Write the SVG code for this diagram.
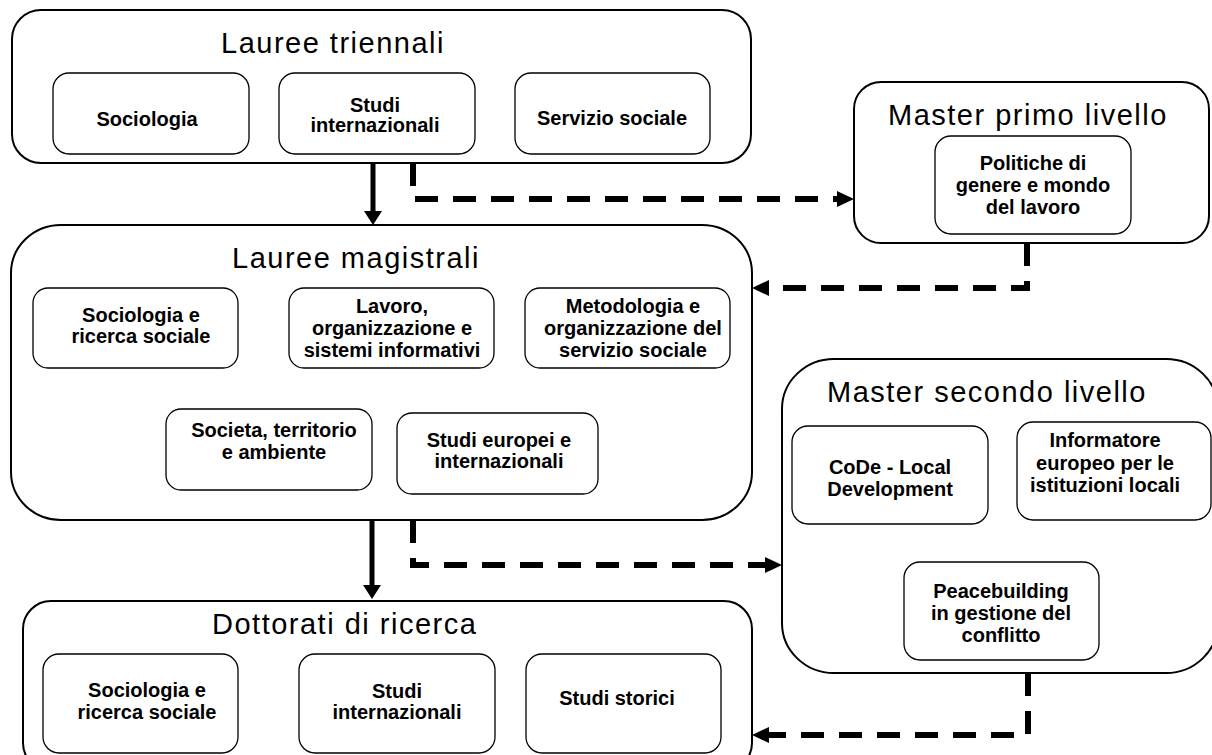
<svg xmlns="http://www.w3.org/2000/svg" width="1212" height="755" viewBox="0 0 1212 755">
<style>
.outer{fill:#fff;stroke:#000;stroke-width:2}
.inner{fill:#fff;stroke:#000;stroke-width:1.3}
.title{font-family:"Liberation Sans",Arial,sans-serif;font-size:29px;letter-spacing:1.5px;fill:#000}
.lbl{font-family:"Liberation Sans",Arial,sans-serif;font-size:20px;font-weight:bold;fill:#000;text-anchor:middle}
.solid{fill:none;stroke:#000;stroke-width:5}
.dash{fill:none;stroke:#000;stroke-width:6;stroke-dasharray:23 15}
</style>
<defs>
<marker id="ahs" markerUnits="userSpaceOnUse" markerWidth="14" markerHeight="18" viewBox="0 0 14 18" refX="1" refY="9" orient="auto">
<path d="M0,0 L14,9 L0,18 z" fill="#000"/>
</marker>
<marker id="ahd" markerUnits="userSpaceOnUse" markerWidth="17" markerHeight="16" viewBox="0 0 17 16" refX="1" refY="8" orient="auto">
<path d="M0,0 L17,8 L0,16 z" fill="#000"/>
</marker>
</defs>
<rect width="1212" height="755" fill="#fff"/>

<g id="laurea-triennali">
<rect class="outer" x="12" y="10" width="739" height="153" rx="29" ry="29"/>
<text class="title" x="221" y="53">Lauree triennali</text>
<rect class="inner" x="53" y="73" width="196" height="81" rx="16"/>
<text class="lbl" x="147" y="126">Sociologia</text>
<rect class="inner" x="279" y="73" width="196" height="81" rx="16"/>
<text class="lbl" x="375" y="112">Studi</text>
<text class="lbl" x="375" y="132">internazionali</text>
<rect class="inner" x="515" y="73" width="195" height="81" rx="16"/>
<text class="lbl" x="612" y="125">Servizio sociale</text>
</g>

<g id="master-primo">
<rect class="outer" x="854" y="82" width="355" height="161" rx="27" ry="27"/>
<text class="title" x="888" y="125">Master primo livello</text>
<rect class="inner" x="935" y="136" width="196" height="98" rx="16"/>
<text class="lbl" x="1033" y="170">Politiche di</text>
<text class="lbl" x="1033" y="192">genere e mondo</text>
<text class="lbl" x="1033" y="214">del lavoro</text>
</g>

<g id="lauree-magistrali">
<rect class="outer" x="11" y="225" width="741" height="295" rx="50" ry="48"/>
<text class="title" x="232" y="268">Lauree magistrali</text>
<rect class="inner" x="33" y="288" width="205" height="80" rx="15"/>
<text class="lbl" x="141" y="322">Sociologia e</text>
<text class="lbl" x="141" y="343">ricerca sociale</text>
<rect class="inner" x="289" y="288" width="205" height="80" rx="15"/>
<text class="lbl" x="392" y="313">Lavoro,</text>
<text class="lbl" x="392" y="335">organizzazione e</text>
<text class="lbl" x="392" y="357">sistemi informativi</text>
<rect class="inner" x="525" y="288" width="205" height="80" rx="15"/>
<text class="lbl" x="633" y="313">Metodologia e</text>
<text class="lbl" x="633" y="335">organizzazione del</text>
<text class="lbl" x="633" y="357">servizio sociale</text>
<rect class="inner" x="166" y="409" width="206" height="81" rx="15"/>
<text class="lbl" x="274" y="437">Societa, territorio</text>
<text class="lbl" x="274" y="459">e ambiente</text>
<rect class="inner" x="397" y="413" width="201" height="81" rx="15"/>
<text class="lbl" x="499" y="447">Studi europei e</text>
<text class="lbl" x="499" y="468">internazionali</text>
</g>

<g id="master-secondo">
<rect class="outer" x="782" y="359" width="436" height="314" rx="52" ry="50"/>
<text class="title" x="827" y="402">Master secondo livello</text>
<rect class="inner" x="792" y="426" width="196" height="98" rx="16"/>
<text class="lbl" x="890" y="474">CoDe - Local</text>
<text class="lbl" x="890" y="496">Development</text>
<rect class="inner" x="1017" y="422" width="194" height="98" rx="16"/>
<text class="lbl" x="1105" y="447">Informatore</text>
<text class="lbl" x="1105" y="470">europeo per le</text>
<text class="lbl" x="1105" y="492">istituzioni locali</text>
<rect class="inner" x="904" y="562" width="195" height="98" rx="16"/>
<text class="lbl" x="1001" y="598">Peacebuilding</text>
<text class="lbl" x="1001" y="620">in gestione del</text>
<text class="lbl" x="1001" y="642">conflitto</text>
</g>

<g id="dottorati">
<rect class="outer" x="23" y="601" width="729" height="170" rx="28" ry="28"/>
<text class="title" x="212" y="634">Dottorati di ricerca</text>
<rect class="inner" x="43" y="654" width="195" height="99" rx="16"/>
<text class="lbl" x="147" y="697">Sociologia e</text>
<text class="lbl" x="147" y="719">ricerca sociale</text>
<rect class="inner" x="299" y="654" width="196" height="99" rx="16"/>
<text class="lbl" x="397" y="698">Studi</text>
<text class="lbl" x="397" y="719">internazionali</text>
<rect class="inner" x="526" y="654" width="195" height="99" rx="16"/>
<text class="lbl" x="617" y="705">Studi storici</text>
</g>

<g id="connectors">
<path class="solid" d="M373,163 V212" marker-end="url(#ahs)"/>
<path class="solid" d="M372,520 V586" marker-end="url(#ahs)"/>
<path class="dash" d="M413,163 V199 H838" marker-end="url(#ahd)"/>
<path class="dash" d="M1027,243 V288 H768" marker-end="url(#ahd)"/>
<path class="dash" d="M413,520 V565 H766" marker-end="url(#ahd)"/>
<path class="dash" d="M1028,673 V735 H768" marker-end="url(#ahd)"/>
</g>
</svg>
